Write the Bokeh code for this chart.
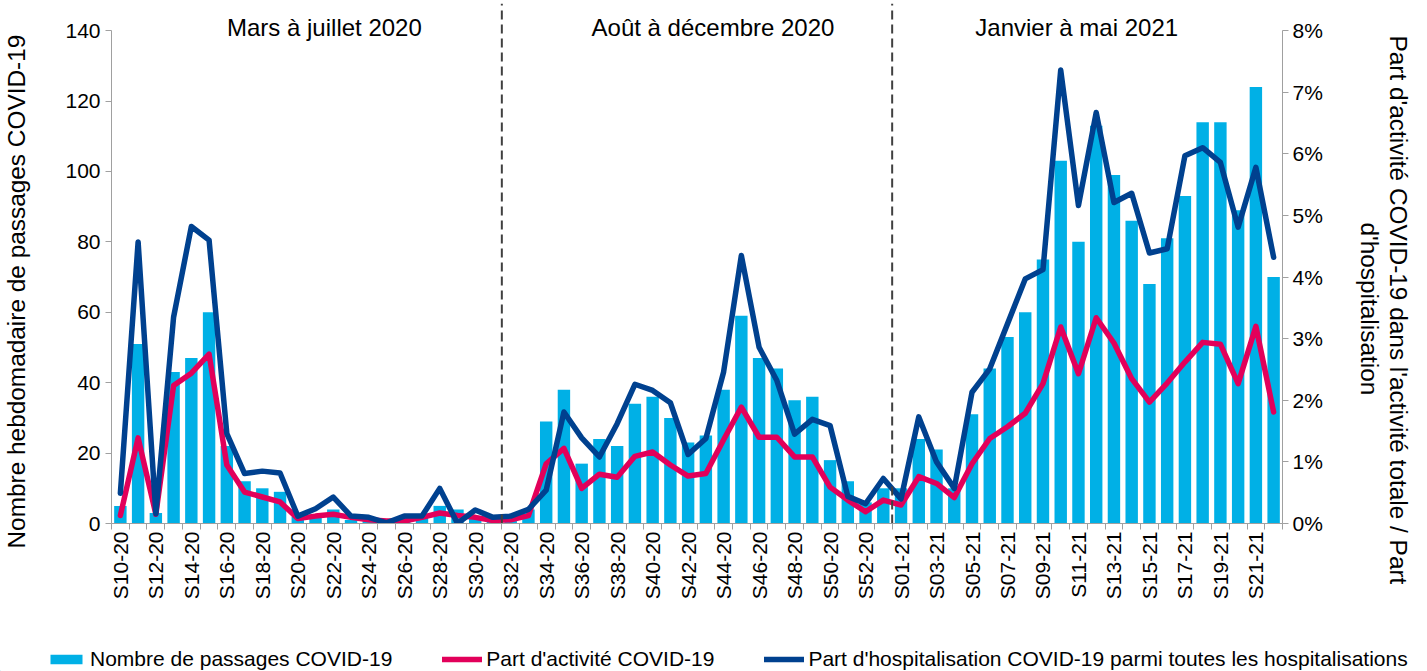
import math
from bokeh.plotting import figure
from bokeh.models import (Range1d, LinearAxis, FixedTicker, PrintfTickFormatter,
                          Legend, LegendItem, Label, Title)
from bokeh.embed import file_html
from bokeh.resources import INLINE

# ---------------- data ----------------
weeks = ["S10-20", "S11-20", "S12-20", "S13-20", "S14-20", "S15-20", "S16-20", "S17-20",
         "S18-20", "S19-20", "S20-20", "S21-20", "S22-20", "S23-20", "S24-20", "S25-20",
         "S26-20", "S27-20", "S28-20", "S29-20", "S30-20", "S31-20", "S32-20", "S33-20",
         "S34-20", "S35-20", "S36-20", "S37-20", "S38-20", "S39-20", "S40-20", "S41-20",
         "S42-20", "S43-20", "S44-20", "S45-20", "S46-20", "S47-20", "S48-20", "S49-20",
         "S50-20", "S51-20", "S52-20", "S53-20", "S01-21", "S02-21", "S03-21", "S04-21",
         "S05-21", "S06-21", "S07-21", "S08-21", "S09-21", "S10-21", "S11-21", "S12-21",
         "S13-21", "S14-21", "S15-21", "S16-21", "S17-21", "S18-21", "S19-21", "S20-21",
         "S21-21", "S22-21"]

passages = [5, 51, 3, 43, 47, 60, 22, 12, 10, 9, 2, 2, 4, 1, 1, 0, 1, 2, 5, 4, 2, 1,
            1, 4, 29, 38, 17, 24, 22, 34, 36, 30, 23, 25, 38, 59, 47, 44, 35, 36, 18, 12, 6, 10,
            10, 24, 21, 10, 31, 44, 53, 60, 75, 103, 80, 113, 99, 86, 68, 81, 93, 114, 114, 89,
            124, 70]

part_activite = [0.13, 1.39, 0.15, 2.24, 2.44, 2.75, 0.95, 0.51, 0.43, 0.35, 0.08, 0.12,
                 0.15, 0.10, 0.06, 0.04, 0.04, 0.10, 0.17, 0.13, 0.10, 0.05,
                 0.06, 0.13, 0.97, 1.22, 0.57, 0.80, 0.75, 1.09, 1.16, 0.95, 0.77, 0.81,
                 1.36, 1.89, 1.40, 1.40, 1.08, 1.08, 0.59, 0.38, 0.19, 0.38,
                 0.30, 0.76, 0.65, 0.42, 0.97, 1.38, 1.57, 1.79, 2.27, 3.19, 2.43, 3.34,
                 2.93, 2.35, 1.97, 2.28, 2.62, 2.94, 2.91, 2.27, 3.20, 1.81]

part_hospit = [0.49, 4.57, 0.16, 3.35, 4.82, 4.60, 1.46, 0.81, 0.85, 0.82, 0.12, 0.24,
               0.43, 0.12, 0.10, 0.01, 0.12, 0.12, 0.57, 0.00, 0.22, 0.10,
               0.12, 0.23, 0.54, 1.81, 1.39, 1.08, 1.62, 2.26, 2.16, 1.96, 1.12, 1.38,
               2.46, 4.35, 2.86, 2.32, 1.45, 1.69, 1.59, 0.44, 0.32, 0.73,
               0.40, 1.73, 1.00, 0.57, 2.13, 2.51, 3.24, 3.97, 4.12, 7.36, 5.16, 6.67,
               5.21, 5.36, 4.39, 4.46, 5.97, 6.10, 5.86, 4.81, 5.78, 4.32]

periods = ["Mars à juillet 2020", "Août à décembre 2020", "Janvier à mai 2021"]
period_first_week = ["S10-20", "S32-20", "S01-21"]

left_ticks = [0, 20, 40, 60, 80, 100, 120, 140]
right_ticks = [0, 1, 2, 3, 4, 5, 6, 7, 8]

left_title = "Nombre hebdomadaire de passages COVID-19"
right_title_1 = "Part d'activité COVID-19 dans l'activité totale / Part"
right_title_2 = "d'hospitalisation"
legend_labels = ["Nombre de passages COVID-19", "Part d'activité COVID-19",
                 "Part d'hospitalisation COVID-19 parmi toutes les hospitalisations"]

# ---------------- style / layout ----------------
FONT = "Liberation Sans"
BAR = "#00B0E6"
RED = "#E2005A"
BLUE = "#00418F"
AXIS_GREY = "#A0A0A0"
NB = "\u00a0"
TITLE_SIZE = "24.4px"
title_x = [11.5, 33.4, 53.9]     # annotation positions (category units)
title_y = 140.9
Y_MAX = left_ticks[-1]
PCT_MAX = right_ticks[-1]
Y_TOP = 147.7                     # frame extends above 140 for the separators
W = 1427
H_MAIN = 640
H_LEG = 31

x = list(range(len(weeks)))

p = figure(width=W, height=H_MAIN, output_backend="svg", toolbar_location=None,
           x_range=Range1d(-0.5, len(weeks) - 0.5), y_range=Range1d(0, Y_TOP),
           min_border_left=107, min_border_right=145, min_border_top=3,
           min_border_bottom=H_MAIN - 523)
p.extra_y_ranges = {"pct": Range1d(0, PCT_MAX * Y_TOP / Y_MAX)}
p.outline_line_color = None
p.xgrid.visible = False
p.ygrid.visible = False
p.background_fill_color = "white"
p.border_fill_color = "white"

# left axis
ya = p.yaxis[0]
ya.ticker = FixedTicker(ticks=left_ticks)
ya.bounds = (0, Y_MAX)
ya.axis_line_color = AXIS_GREY
ya.major_tick_line_color = AXIS_GREY
ya.major_tick_out = 6
ya.major_tick_in = 0
ya.minor_tick_line_color = None
ya.major_label_text_font = FONT
ya.major_label_text_font_size = "21px"
ya.major_label_text_color = "black"
ya.major_label_standoff = 5
ya.axis_label = NB                 # spacer between tick labels and the title
ya.axis_label_text_font = FONT
ya.axis_label_text_font_size = TITLE_SIZE
ya.axis_label_standoff = 3

# right axis
ra = LinearAxis(y_range_name="pct", ticker=FixedTicker(ticks=right_ticks),
                formatter=PrintfTickFormatter(format="%d%%"), bounds=(0, PCT_MAX))
ra.axis_line_color = AXIS_GREY
ra.major_tick_line_color = AXIS_GREY
ra.major_tick_out = 6
ra.major_tick_in = 0
ra.minor_tick_line_color = None
ra.major_label_text_font = FONT
ra.major_label_text_font_size = "21px"
ra.major_label_text_color = "black"
ra.major_label_standoff = 4
ra.axis_label = NB                 # spacer between tick labels and the titles
ra.axis_label_text_font = FONT
ra.axis_label_text_font_size = TITLE_SIZE
ra.axis_label_standoff = 0
p.add_layout(ra, "right")

# axis titles as side-panel titles (positioned along the axis)
title_style = dict(text_font=FONT, text_font_size=TITLE_SIZE, text_font_style="normal",
                   text_color="black")
p.add_layout(Title(text=left_title, align="left", offset=-25, standoff=0,
                   **title_style), "left")
p.add_layout(Title(text=right_title_2, align="left", offset=219, standoff=0,
                   text_line_height=1.0, **title_style), "right")
p.add_layout(Title(text=right_title_1, align="left", offset=32, standoff=0,
                   text_line_height=1.0, **title_style), "right")

# bottom axis
xa = p.xaxis[0]
label_idx = x[::2]
xa.ticker = FixedTicker(ticks=label_idx, minor_ticks=[i - 0.5 for i in range(len(weeks) + 1)])
xa.major_label_overrides = {i: weeks[i] for i in label_idx}
xa.major_label_orientation = math.pi / 2
xa.major_tick_line_color = None
xa.major_tick_out = 6
xa.minor_tick_line_color = AXIS_GREY
xa.minor_tick_out = 6
xa.minor_tick_in = 0
xa.axis_line_color = AXIS_GREY
xa.major_label_text_font = FONT
xa.major_label_text_font_size = "21px"
xa.major_label_text_color = "black"
xa.major_label_standoff = 2

# glyphs
bar_style = dict(fill_color=BAR, line_color=None)
red_style = dict(line_width=5.5, line_color=RED, line_join="round", line_cap="round")
blue_style = dict(line_width=5.5, line_color=BLUE, line_join="round", line_cap="round")

p.vbar(x=x, top=passages, width=0.7, **bar_style)
p.line(x, part_activite, y_range_name="pct", **red_style)
p.line(x, part_hospit, y_range_name="pct", **blue_style)

# period separators
bounds = [weeks.index(w) - 0.5 for w in period_first_week[1:]]
p.segment(x0=bounds, y0=[0] * len(bounds), x1=bounds, y1=[Y_TOP] * len(bounds),
          line_color="#404040", line_width=2, line_dash="9 5")

for tx, txt in zip(title_x, periods):
    p.add_layout(Label(x=tx, y=title_y, text=txt, text_align="center",
                       text_baseline="middle", text_font=FONT,
                       text_font_size="24px", text_color="black"))

# ---------------- legend strip (separate figure below) ----------------
lf = figure(width=W, height=H_LEG, output_backend="svg", toolbar_location=None,
            x_range=Range1d(0, W), y_range=Range1d(0, H_LEG),
            min_border_left=0, min_border_right=0, min_border_top=0, min_border_bottom=0)
lf.axis.visible = False
lf.grid.visible = False
lf.outline_line_color = None
lf.background_fill_color = "white"
lf.border_fill_color = "white"
# proxies for the legend swatches (placed outside the visible range)
lb = lf.vbar(x=[-100], top=[1], width=1, **bar_style)
lr = lf.line([-100, -99], [1, 1], **red_style)
lbl = lf.line([-100, -99], [1, 1], **blue_style)

legend = Legend(items=[
    LegendItem(label=legend_labels[0], renderers=[lb]),
    LegendItem(label=legend_labels[1], renderers=[lr]),
    LegendItem(label=legend_labels[2], renderers=[lbl]),
], orientation="horizontal", location=(46, 0), glyph_width=40, glyph_height=12,
    label_height=21, label_standoff=4, spacing=50, padding=0, margin=0,
    border_line_color=None, background_fill_alpha=0,
    label_text_font=FONT, label_text_font_size="21px", label_text_color="black")
lf.add_layout(legend)

open("out.html", "w").write(file_html([p, lf], INLINE))
